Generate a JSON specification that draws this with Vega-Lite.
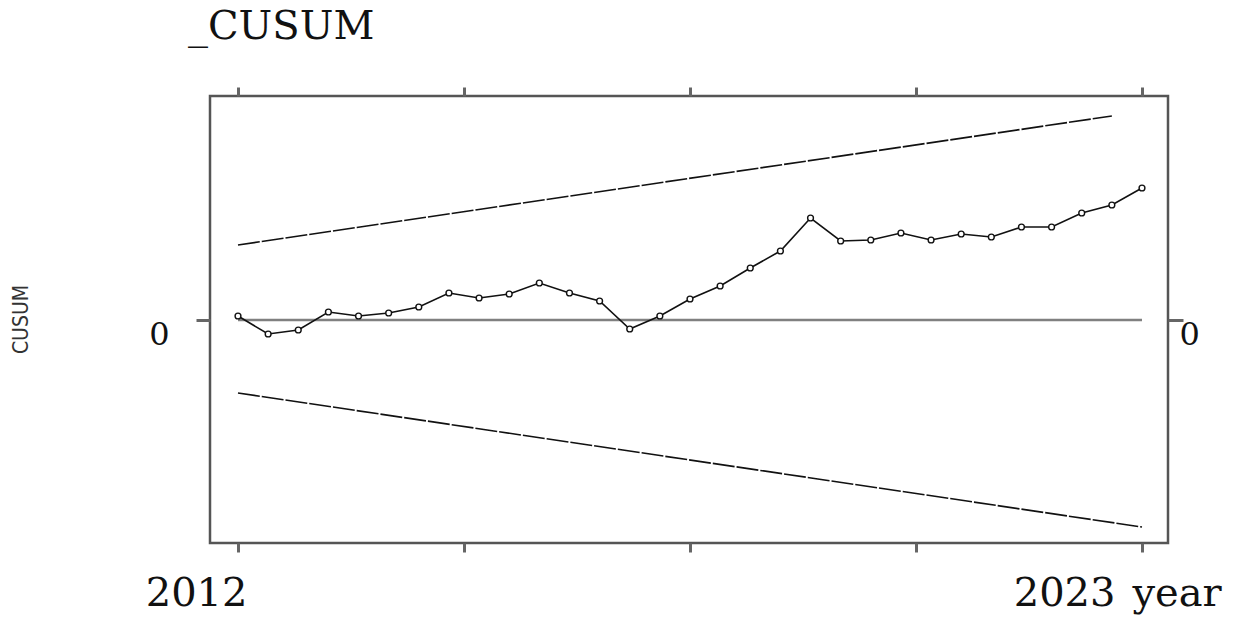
{
  "$schema": "https://vega.github.io/schema/vega-lite/v6.json",
  "width": 958,
  "height": 447,
  "autosize": {"type": "none"},
  "padding": {"left": 210, "top": 96, "right": 74, "bottom": 74},
  "background": "white",
  "config": {"view": {"stroke": "#555", "strokeWidth": 2.5}},
  "title": {"text": "_CUSUM", "anchor": "start", "frame": "group", "font": "DejaVu Serif", "fontSize": 40, "fontWeight": "normal", "color": "#111", "dx": -22, "offset": 7, "baseline": "alphabetic"},
  "datasets": {
    "series": [
      {"t": 1, "v": 4}, {"t": 2, "v": -14}, {"t": 3, "v": -10}, {"t": 4, "v": 8},
      {"t": 5, "v": 4}, {"t": 6, "v": 7}, {"t": 7, "v": 13}, {"t": 8, "v": 27},
      {"t": 9, "v": 22}, {"t": 10, "v": 26}, {"t": 11, "v": 37}, {"t": 12, "v": 27},
      {"t": 13, "v": 19}, {"t": 14, "v": -9}, {"t": 15, "v": 4}, {"t": 16, "v": 21},
      {"t": 17, "v": 34}, {"t": 18, "v": 52}, {"t": 19, "v": 69}, {"t": 20, "v": 102},
      {"t": 21, "v": 79}, {"t": 22, "v": 80}, {"t": 23, "v": 87}, {"t": 24, "v": 80},
      {"t": 25, "v": 86}, {"t": 26, "v": 83}, {"t": 27, "v": 93}, {"t": 28, "v": 93},
      {"t": 29, "v": 107}, {"t": 30, "v": 115}, {"t": 31, "v": 132}
    ],
    "bounds": [
      {"bound": "upper", "t": 1, "v": 75}, {"bound": "upper", "t": 30, "v": 204},
      {"bound": "lower", "t": 1, "v": -73}, {"bound": "lower", "t": 31, "v": -207}
    ],
    "zero": [{"t": 1, "t2": 31, "v": 0}]
  },
  "layer": [
    {
      "data": {"name": "bounds"},
      "mark": {"type": "line", "color": "#111", "strokeWidth": 1.6, "strokeDash": [22, 2]},
      "encoding": {
        "x": {"field": "t", "type": "quantitative", "scale": {"domain": [0.0708, 31.863], "nice": false, "zero": false},
          "axis": {"orient": "bottom", "values": [1, 8.5, 16, 23.5, 31], "grid": false, "domain": false,
            "labelExpr": "datum.value == 1 ? '2012' : (datum.value == 31 ? '2023' : '')",
            "labelFont": "DejaVu Serif", "labelFontSize": 40, "labelColor": "#111", "labelAlign": "right", "labelBaseline": "alphabetic",
            "labelPadding": 53, "labelFlush": false, "labelOverlap": false,
            "labelOffset": {"condition": {"test": "datum.value == 31", "value": -27}, "value": 9},
            "tickSize": 9, "tickWidth": 3, "tickColor": "#666",
            "title": "year", "titleFont": "DejaVu Serif", "titleFontSize": 40, "titleFontWeight": "normal", "titleColor": "#111",
            "titleAlign": "left", "titleX": 922, "titleY": 62, "titleBaseline": "alphabetic"}},
        "y": {"field": "v", "type": "quantitative", "scale": {"domain": [-223, 224], "nice": false, "zero": false},
          "axis": {"orient": "left", "values": [0], "grid": false, "domain": false,
            "labelFont": "DejaVu Serif", "labelFontSize": 32, "labelColor": "#111", "labelAlign": "right", "labelBaseline": "alphabetic",
            "labelPadding": 27, "labelOffset": 24,
            "tickSize": 14, "tickWidth": 3, "tickColor": "#666",
            "title": "CUSUM", "titleFont": "Liberation Sans Narrow, DejaVu Sans Condensed, sans-serif", "titleFontSize": 21, "titleFontWeight": "normal", "titleColor": "#333",
            "titleX": -189, "titleY": 223, "titleAlign": "center", "titleBaseline": "middle"}},
        "detail": {"field": "bound", "type": "nominal"}
      }
    },
    {
      "data": {"name": "zero"},
      "mark": {"type": "rule", "color": "#808080", "strokeWidth": 2.5},
      "encoding": {
        "x": {"field": "t", "type": "quantitative",
          "axis": {"orient": "top", "values": [1, 8.5, 16, 23.5, 31], "labels": false, "grid": false, "domain": false,
            "tickSize": 9, "tickWidth": 3, "tickColor": "#666", "title": null}},
        "x2": {"field": "t2"},
        "y": {"field": "v", "type": "quantitative",
          "axis": {"orient": "right", "values": [0], "grid": false, "domain": false,
            "labelFont": "DejaVu Serif", "labelFontSize": 32, "labelColor": "#111", "labelAlign": "left", "labelBaseline": "alphabetic",
            "labelPadding": -4, "labelOffset": 24,
            "tickSize": 15, "tickWidth": 3, "tickColor": "#666", "title": null}}
      }
    },
    {
      "data": {"name": "series"},
      "mark": {"type": "line", "color": "#111", "strokeWidth": 1.6},
      "encoding": {
        "x": {"field": "t", "type": "quantitative", "axis": null},
        "y": {"field": "v", "type": "quantitative", "axis": null}
      }
    },
    {
      "data": {"name": "series"},
      "mark": {"type": "point", "shape": "circle", "size": 34, "filled": false, "fill": "white", "fillOpacity": 1, "stroke": "#111", "strokeWidth": 1.4, "opacity": 1},
      "encoding": {
        "x": {"field": "t", "type": "quantitative", "axis": null},
        "y": {"field": "v", "type": "quantitative", "axis": null}
      }
    }
  ],
  "resolve": {"axis": {"x": "independent", "y": "independent"}}
}
